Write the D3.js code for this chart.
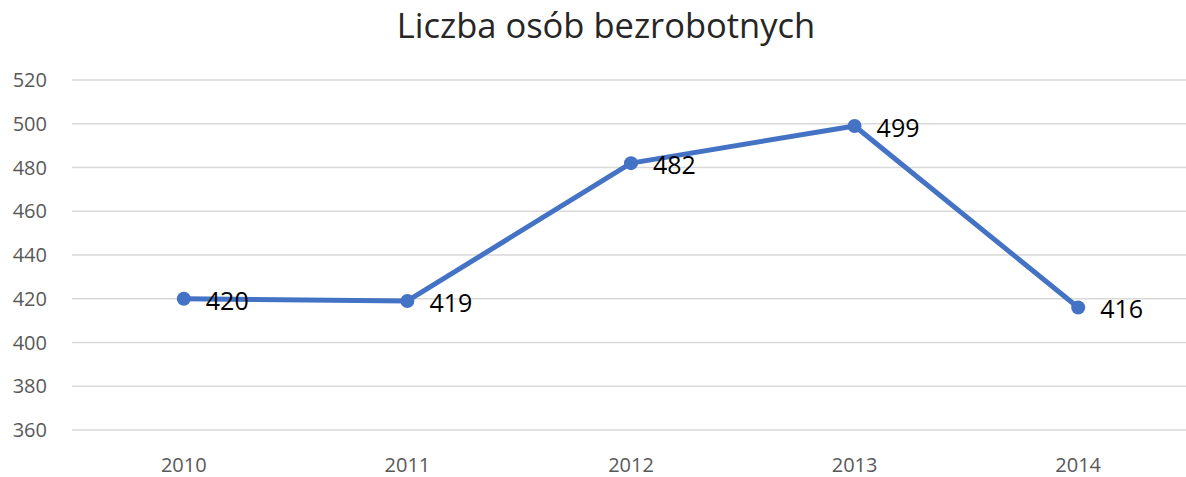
<!DOCTYPE html>
<meta charset="utf-8">
<html>
<head>
<title>Liczba osób bezrobotnych</title>
<style>
  body { margin: 0; background: #fff; }
  text { font-family: "Open Sans", "Noto Sans", sans-serif; }
</style>
</head>
<body>
<div id="chart"></div>
<script src="https://d3js.org/d3.v7.min.js"></script>
<script>

// data
var years = ["2010", "2011", "2012", "2013", "2014"];
var values = [420, 419, 482, 499, 416];
var yTicks = [360, 380, 400, 420, 440, 460, 480, 500, 520];

var W = 1186, H = 477;
var margin = {top: 80, right: -4, bottom: 48, left: 72};
var width = W - margin.left - margin.right,
    height = H - margin.top - margin.bottom;

var svg = d3.select("#chart")
  .append("svg")
    .attr("width", W)
    .attr("height", H);

svg.append("text")
  .attr("x", 606).attr("y", 38)
  .attr("text-anchor", "middle")
  .style("font-size", "34.5px")
  .style("fill", "#262626")
  .text("Liczba osób bezrobotnych");

var g = svg.append("g")
  .attr("transform", "translate(" + margin.left + "," + margin.top + ")");

var x = d3.scaleBand().domain(years).range([0, width]);
var y = d3.scaleLinear().domain([360, 520]).range([height + 1, 0]);

// gridlines
g.selectAll(".grid")
  .data(yTicks)
  .enter().append("line")
    .attr("x1", 0).attr("x2", width)
    .attr("y1", function(d) { return y(d); })
    .attr("y2", function(d) { return y(d); })
    .attr("stroke", "#d9d9d9")
    .attr("stroke-width", 1.5);

// y labels
g.selectAll(".ylab")
  .data(yTicks)
  .enter().append("text")
    .attr("x", -25)
    .attr("y", function(d) { return y(d); })
    .attr("dy", "0.35em")
    .attr("text-anchor", "end")
    .style("font-size", "20px")
    .style("fill", "#595959")
    .text(function(d) { return d; });

// x labels
g.selectAll(".xlab")
  .data(years)
  .enter().append("text")
    .attr("x", function(d) { return x(d) + x.bandwidth() / 2; })
    .attr("y", height + 43)
    .attr("text-anchor", "middle")
    .style("font-size", "20px")
    .style("fill", "#595959")
    .text(function(d) { return d; });

var pts = years.map(function(d, i) { return {year: d, value: values[i]}; });
var cx = function(d) { return x(d.year) + x.bandwidth() / 2; };

g.append("path")
  .datum(pts)
  .attr("fill", "none")
  .attr("stroke", "#4472c4")
  .attr("stroke-width", 5)
  .attr("stroke-linejoin", "round")
  .attr("d", d3.line().x(cx).y(function(d) { return y(d.value); }));

g.selectAll(".dot")
  .data(pts)
  .enter().append("circle")
    .attr("cx", cx)
    .attr("cy", function(d) { return y(d.value); })
    .attr("r", 7)
    .attr("fill", "#4472c4");

g.selectAll(".lab")
  .data(pts)
  .enter().append("text")
    .attr("x", function(d) { return cx(d) + 22; })
    .attr("y", function(d) { return y(d.value) + 2; })
    .attr("dy", "0.35em")
    .style("font-size", "25px")
    .style("fill", "#000")
    .text(function(d) { return d.value; });

</script>
</body>
</html>
